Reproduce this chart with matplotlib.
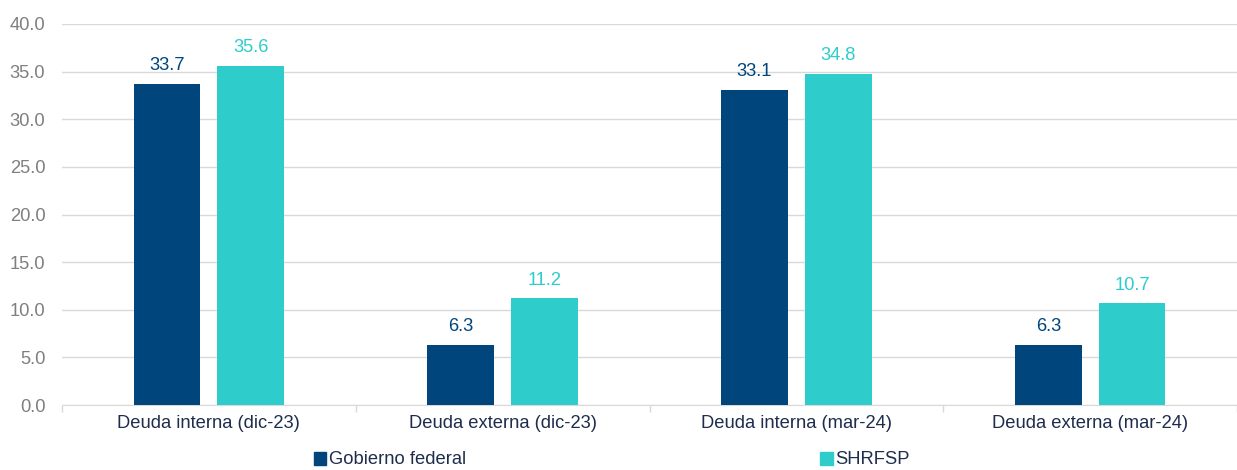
import numpy as np
import matplotlib.pyplot as plt
from matplotlib.patches import Patch

plt.rcParams['font.family'] = ['Liberation Sans', 'DejaVu Sans']

categories = ['Deuda interna (dic-23)', 'Deuda externa (dic-23)',
              'Deuda interna (mar-24)', 'Deuda externa (mar-24)']
gobierno = [33.7, 6.3, 33.1, 6.3]
shrfsp = [35.6, 11.2, 34.8, 10.7]
series_names = ['Gobierno federal', 'SHRFSP']

dark = '#00457c'
cyan = '#2ecdcc'
grid_gray = '#d9d9d9'
fs = 13.2

fig = plt.figure(figsize=(12.37, 4.70), dpi=100)
ax = fig.add_axes([62 / 1237, 65 / 470, 1175 / 1237, 381 / 470])

x = np.arange(len(categories))
w = 0.227
off = 0.1425
b1 = ax.bar(x - off, gobierno, w, color=dark, zorder=3)
b2 = ax.bar(x + off, shrfsp, w, color=cyan, zorder=3)

# value labels above each bar, in the bar's colour
for bars, vals, c in ((b1, gobierno, dark), (b2, shrfsp, cyan)):
    for b, v in zip(bars, vals):
        ax.text(b.get_x() + b.get_width() / 2, v + 1.0, f'{v:.1f}',
                ha='center', va='bottom', fontsize=fs, color=c)

ax.set_xlim(-0.5, len(categories) - 0.5)
ax.set_ylim(0, 40)
ax.set_yticks(np.arange(0, 40.1, 5))
ax.set_yticklabels([f'{t:.1f}' for t in np.arange(0, 40.1, 5)])
ax.grid(axis='y', color=grid_gray, linewidth=1, zorder=0)

ax.set_xticks(x)
ax.set_xticklabels(categories, fontsize=fs, color='#1f2d4d')
ax.tick_params(axis='x', length=0, pad=7)
# small separators between categories
ax.set_xticks(np.arange(-0.5, len(categories), 1), minor=True)
ax.tick_params(axis='x', which='minor', length=5, color=grid_gray, width=1)
ax.tick_params(axis='y', length=0, labelsize=fs, labelcolor='#7f7f7f', pad=12)

for side in ('top', 'right', 'left'):
    ax.spines[side].set_visible(False)
ax.spines['bottom'].set_color(grid_gray)

handles = [Patch(color=dark), Patch(color=cyan)]
fig.legend(handles, series_names, loc='center left',
           bbox_to_anchor=(297 / 1237, 10 / 470), ncol=2, frameon=False,
           fontsize=fs, handlelength=0.7, handleheight=0.7,
           handletextpad=0.15, columnspacing=19.3, labelcolor='#1f2d4d')

fig.savefig('out.png', dpi=100)
